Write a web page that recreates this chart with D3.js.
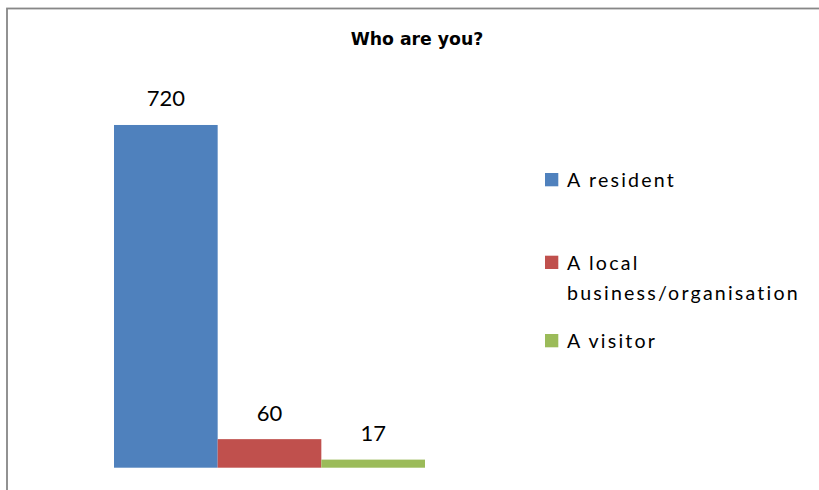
<!DOCTYPE html>
<html>
<head>
<meta charset="utf-8">
<script src="https://cdn.jsdelivr.net/npm/d3@7"></script>
<style>
  html, body { margin: 0; padding: 0; background: #fff; overflow: hidden; }
  svg { display: block; }
</style>
</head>
<body>
<svg id="chart" width="819" height="490"></svg>
<script>
// Survey responses: "Who are you?"
const chartTitle = "Who are you?";
const seriesNames = ["A resident", "A local business/organisation", "A visitor"];
const seriesValues = [720, 60, 17];
const seriesColors = ["#4F81BD", "#C0504D", "#9BBB59"];
const legendLines = [["A resident"], ["A local", "business/organisation"], ["A visitor"]];
const yMax = 800;

const svg = d3.select("#chart");

// Outer chart-area frame (runs off the right and bottom edges)
svg.append("rect")
  .attr("x", 7).attr("y", 8.5)
  .attr("width", 830).attr("height", 500)
  .attr("fill", "#fff")
  .attr("stroke", "#878787")
  .attr("stroke-width", 1.8);

// Title
svg.append("text")
  .attr("x", 417).attr("y", 44.7)
  .attr("text-anchor", "middle")
  .attr("font-family", "'DejaVu Sans', sans-serif")
  .attr("font-weight", "bold")
  .attr("font-size", 17.3)
  .attr("fill", "#000")
  .text(chartTitle);

// Scales
const plotBottom = 467.7, plotTop = 86.9;
const y = d3.scaleLinear().domain([0, yMax]).range([plotBottom, plotTop]);
const x = d3.scaleBand().domain(seriesNames).range([114, 425]).padding(0);

const data = seriesNames.map((name, i) => ({ name, value: seriesValues[i], color: seriesColors[i] }));

// Bars
svg.append("g").selectAll("rect")
  .data(data)
  .join("rect")
  .attr("x", d => x(d.name))
  .attr("y", d => y(d.value))
  .attr("width", x.bandwidth())
  .attr("height", d => y(0) - y(d.value))
  .attr("fill", d => d.color);

// Value labels
svg.append("g").selectAll("text")
  .data(data)
  .join("text")
  .attr("x", d => x(d.name) + x.bandwidth() / 2)
  .attr("y", d => y(d.value) - 18.6)
  .attr("text-anchor", "middle")
  .attr("font-family", "Lato, sans-serif")
  .attr("font-size", 22)
  .attr("fill", "#000")
  .text(d => d.value);

// Legend
const legendX = 545, textX = 567, lineH = 30;
const legendBaselines = [187.3, 270, 348.3];
const legend = svg.append("g").selectAll("g")
  .data(data)
  .join("g")
  .attr("transform", (d, i) => `translate(0,${legendBaselines[i]})`);

legend.append("rect")
  .attr("x", legendX).attr("y", -14.3)
  .attr("width", 13.3).attr("height", 13.3)
  .attr("fill", d => d.color);

legend.append("text")
  .attr("x", textX)
  .attr("font-family", "Lato, sans-serif")
  .attr("font-size", 19.6)
  .attr("letter-spacing", 2.2)
  .attr("fill", "#000")
  .each(function(d, i) {
    d3.select(this).selectAll("tspan")
      .data(legendLines[i])
      .join("tspan")
      .attr("x", textX)
      .attr("y", (t, j) => j * lineH)
      .text(t => t);
  });
</script>
</body>
</html>
